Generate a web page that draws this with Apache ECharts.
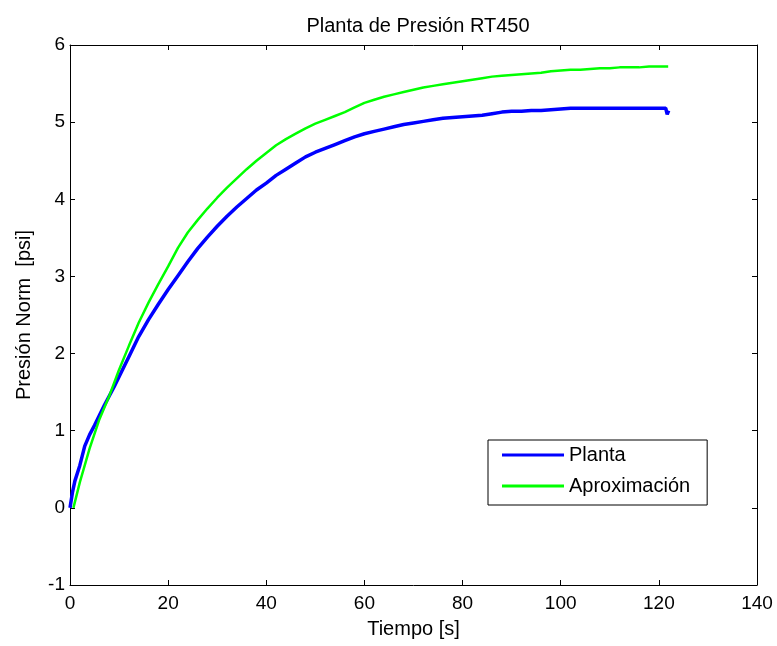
<!DOCTYPE html>
<html>
<head>
<meta charset="utf-8">
<script src="https://cdn.jsdelivr.net/npm/echarts@6/dist/echarts.min.js"></script>
<style>html,body{margin:0;padding:0;background:#fff;}#c{width:777px;height:646px;}</style>
</head>
<body>
<div id="c"></div>
<script>
const xTicks = [0, 20, 40, 60, 80, 100, 120, 140];
const yTicks = [-1, 0, 1, 2, 3, 4, 5, 6];

const plantaT = [0, 0.5, 1, 2, 3, 4, 5, 6, 7, 8, 9, 10, 12, 14, 16, 18, 20, 22, 24, 26, 28, 30, 32, 34, 36, 38, 40, 42, 44, 46, 48, 50, 52, 54, 56, 58, 60, 62, 64, 66, 68, 70, 72, 74, 76, 78, 80, 82, 84, 86, 88, 90, 92, 94, 96, 98, 100, 102, 104, 108, 112, 116, 120, 121.4, 121.7, 122];
const plantaV = [0, 0.2, 0.35, 0.55, 0.8, 0.95, 1.07, 1.2, 1.33, 1.45, 1.57, 1.7, 1.96, 2.22, 2.44, 2.64, 2.83, 3.01, 3.19, 3.36, 3.51, 3.65, 3.78, 3.9, 4.01, 4.12, 4.21, 4.31, 4.39, 4.47, 4.55, 4.61, 4.66, 4.71, 4.76, 4.81, 4.85, 4.88, 4.91, 4.94, 4.97, 4.99, 5.01, 5.03, 5.05, 5.06, 5.07, 5.08, 5.09, 5.11, 5.13, 5.14, 5.14, 5.15, 5.15, 5.16, 5.17, 5.18, 5.18, 5.18, 5.18, 5.18, 5.18, 5.18, 5.1, 5.15];

const aproxT = [0.7, 2, 4, 6, 8, 10, 12, 14, 16, 18, 20, 22, 24, 26, 28, 30, 32, 34, 36, 38, 40, 42, 44, 46, 48, 50, 52, 54, 56, 58, 60, 62, 64, 66, 68, 70, 72, 74, 76, 78, 80, 82, 84, 86, 88, 90, 92, 94, 96, 98, 100, 102, 104, 106, 108, 110, 112, 114, 116, 118, 120, 121.9];
const aproxV = [0, 0.33, 0.77, 1.15, 1.45, 1.79, 2.1, 2.4, 2.66, 2.9, 3.13, 3.37, 3.57, 3.73, 3.88, 4.02, 4.15, 4.27, 4.39, 4.5, 4.6, 4.7, 4.78, 4.85, 4.92, 4.98, 5.03, 5.08, 5.13, 5.19, 5.25, 5.29, 5.33, 5.36, 5.39, 5.42, 5.45, 5.47, 5.49, 5.51, 5.53, 5.55, 5.57, 5.59, 5.6, 5.61, 5.62, 5.63, 5.64, 5.66, 5.67, 5.68, 5.68, 5.69, 5.7, 5.7, 5.71, 5.71, 5.71, 5.72, 5.72, 5.72];

const FONT = "'Liberation Sans', Arial, Helvetica, sans-serif";
const chart = echarts.init(document.getElementById('c'), null, {renderer: 'canvas'});

function xAx(pos, showLabel) {
  return {
    type: 'value', position: pos, min: xTicks[0], max: xTicks[xTicks.length - 1], interval: 20,
    axisLine: {show: true, onZero: false, lineStyle: {color: '#000', width: 1}},
    axisTick: {show: true, inside: true, length: 5, lineStyle: {color: '#000'}},
    axisLabel: {show: showLabel, color: '#000', fontSize: 19, fontFamily: FONT, margin: 9},
    splitLine: {show: false},
    name: showLabel ? 'Tiempo [s]' : '', nameLocation: 'middle', nameGap: 34,
    nameTextStyle: {color: '#000', fontSize: 20, fontFamily: FONT}
  };
}
function yAx(pos, showLabel) {
  return {
    type: 'value', position: pos, min: yTicks[0], max: yTicks[yTicks.length - 1], interval: 1,
    axisLine: {show: true, onZero: false, lineStyle: {color: '#000', width: 1}},
    axisTick: {show: true, inside: true, length: 5, lineStyle: {color: '#000'}},
    axisLabel: {show: showLabel, color: '#000', fontSize: 19, fontFamily: FONT, margin: 5},
    splitLine: {show: false},
    name: showLabel ? 'Presión Norm  [psi]' : '', nameLocation: 'middle', nameGap: 36,
    nameTextStyle: {color: '#000', fontSize: 20, fontFamily: FONT}
  };
}

chart.setOption({
  animation: false,
  backgroundColor: '#fff',
  title: {
    text: 'Planta de Presión RT450', left: 413, top: 11, textAlign: 'center',
    textStyle: {color: '#000', fontSize: 20, fontWeight: 'normal', fontFamily: FONT}
  },
  grid: {left: 70, right: 20, top: 45, bottom: 61, show: false},
  xAxis: [xAx('bottom', true), xAx('top', false)],
  yAxis: [yAx('left', true), yAx('right', false)],
  legend: {
    orient: 'vertical', left: 488, top: 440,
    padding: [5, 17, 9, 14], itemGap: 11, itemWidth: 62, itemHeight: 3,
    borderColor: '#000', borderWidth: 1, backgroundColor: '#fff',
    textStyle: {color: '#000', fontSize: 20, lineHeight: 20, fontFamily: FONT},
    data: [{name: 'Planta', icon: 'rect', itemStyle: {color: '#0000ff'}},
           {name: 'Aproximación', icon: 'rect', itemStyle: {color: '#00ff00'}}]
  },
  series: [
    {
      name: 'Planta', type: 'line', xAxisIndex: 0, yAxisIndex: 0, symbol: 'none',
      lineStyle: {color: '#0000ff', width: 3.5}, itemStyle: {color: '#0000ff'},
      data: plantaT.map((t, i) => [t, plantaV[i]])
    },
    {
      name: 'Aproximación', type: 'line', xAxisIndex: 0, yAxisIndex: 0, symbol: 'none',
      lineStyle: {color: '#00ff00', width: 2.5}, itemStyle: {color: '#00ff00'},
      data: aproxT.map((t, i) => [t, aproxV[i]])
    }
  ]
});
</script>
</body>
</html>
